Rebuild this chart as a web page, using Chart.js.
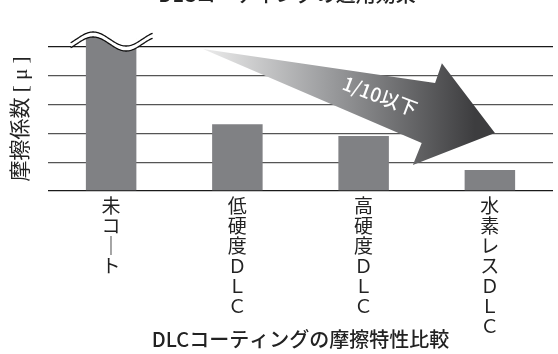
<!DOCTYPE html>
<html>
<head>
<meta charset="utf-8">
<script src="https://cdn.jsdelivr.net/npm/chart.js@4.4.1/dist/chart.umd.min.js"></script>
<style>
    html, body { margin: 0; padding: 0; background: #fff; }
    #wrap { width: 558px; height: 354px; }
</style>
</head>
<body>
<div id="wrap"><canvas id="myChart"></canvas></div>
<script>
// data of chart
const categories = [
    ['未', 'コ', '｜', 'ト'],
    ['低', '硬', '度', 'Ｄ', 'Ｌ', 'Ｃ'],
    ['高', '硬', '度', 'Ｄ', 'Ｌ', 'Ｃ'],
    ['水', '素', 'レ', 'ス', 'Ｄ', 'Ｌ', 'Ｃ']
];
const friction = [5.6, 2.32, 1.91, 0.73];   // first bar is cut off (break mark)
const yMin = 0;
const yMax = 5;
const yStep = 1;

const yTitle = '摩擦係数 [ μ ]';
const xTitle = 'DLCコーティングの摩擦特性比較';
const arrowText = '1/10以下';
const topTitle = 'DLCコーティングの適用効果';

const barColor = '#808184';
const serifFont = "'Liberation Serif', 'Noto Sans CJK JP', serif";
const sansFont = "'Noto Sans CJK JP', 'Noto Sans', sans-serif";

// break mark on top of the first bar + big arrow
const decoPlugin = {
    id: 'deco',
    afterDatasetsDraw(chart) {
        const ctx = chart.ctx;
        const xs = chart.scales.x;
        const ys = chart.scales.y;
        const area = chart.chartArea;

        // wave (break) on bar 1
        const bar = chart.getDatasetMeta(0).data[0];
        const bx = bar.x - 3.5;
        const half = bar.width / 2;
        const cy = area.top - 8;
        const waveY = x => cy - 7 * Math.sin(2 * Math.PI * (x - (bx - 31)) / 66);
        const x1 = bx - 37, x2 = bx + 45;

        ctx.save();
        // white above lower curve, inside bar
        ctx.beginPath();
        ctx.moveTo(bar.x - half - 1, 0);
        for (let x = bar.x - half - 1; x <= bar.x + half + 1; x++) {
            ctx.lineTo(x, waveY(x) + 5);
        }
        ctx.lineTo(bar.x + half + 1, 0);
        ctx.closePath();
        ctx.fillStyle = '#fff';
        ctx.fill();

        const curve = off => {
            ctx.beginPath();
            for (let x = x1; x <= x2; x++) {
                if (x == x1) ctx.moveTo(x, waveY(x) + off);
                else ctx.lineTo(x, waveY(x) + off);
            }
        };
        curve(2.5);
        ctx.strokeStyle = '#fff';
        ctx.lineWidth = 4;
        ctx.stroke();
        ctx.strokeStyle = '#111';
        ctx.lineWidth = 1.3;
        curve(0);
        ctx.stroke();
        curve(5);
        ctx.stroke();

        // arrow, positions in (category index, value)
        const pts = [
            [0.728, 4.93],
            [2.566, 3.75],
            [2.62, 4.44],
            [3.04, 2.01],
            [2.39, 0.90],
            [2.46, 1.67]
        ].map(p => [xs.getPixelForValue(p[0]), ys.getPixelForValue(p[1])]);
        const grad = ctx.createLinearGradient(pts[0][0], 0, pts[3][0] - 20, 0);
        grad.addColorStop(0, '#ececec');
        grad.addColorStop(0.45, '#9d9ea0');
        grad.addColorStop(1, '#3d3d3f');
        ctx.beginPath();
        pts.forEach((p, i) => {
            if (i == 0) ctx.moveTo(p[0], p[1]);
            else ctx.lineTo(p[0], p[1]);
        });
        ctx.closePath();
        ctx.fillStyle = grad;
        ctx.fill();

        // arrow text
        ctx.translate(xs.getPixelForValue(2.13), ys.getPixelForValue(3.30));
        ctx.rotate(0.36);
        ctx.fillStyle = '#fff';
        ctx.font = '500 19px ' + sansFont;
        ctx.textAlign = 'center';
        ctx.textBaseline = 'middle';
        ctx.fillText(arrowText, 0, 0);
        ctx.restore();
    },
    afterDraw(chart) {
        // title that is cut at the top edge of the picture
        const ctx = chart.ctx;
        ctx.save();
        ctx.fillStyle = '#222';
        ctx.font = '500 20px ' + sansFont;
        ctx.textAlign = 'center';
        ctx.textBaseline = 'alphabetic';
        ctx.fillText(topTitle, 287, 1.5);
        ctx.restore();
    }
};

const ctx = document.getElementById('myChart');
const myChart = new Chart(ctx, {
    type: 'bar',
    data: {
        labels: categories,
        datasets: [{
            data: friction,
            backgroundColor: barColor,
            borderWidth: 0,
            barPercentage: 0.4,
            categoryPercentage: 1,
            clip: false
        }]
    },
    options: {
        responsive: true,
        maintainAspectRatio: false,
        animation: false,
        layout: {
            padding: { top: 47, right: 5, left: 0, bottom: 0 }
        },
        plugins: {
            legend: { display: false },
            tooltip: { enabled: false }
        },
        scales: {
            x: {
                grid: { display: false, drawTicks: false },
                border: { display: false },
                ticks: {
                    color: '#222',
                    maxRotation: 0,
                    autoSkip: false,
                    padding: 7,
                    font: { family: serifFont, size: 19, lineHeight: 1.05 }
                },
                title: {
                    display: true,
                    text: xTitle,
                    color: '#222',
                    padding: { top: 0, bottom: 3 },
                    font: { family: sansFont, size: 20, weight: '500', lineHeight: 1.2 }
                },
                afterFit(scale) {
                    scale.height = 163;
                }
            },
            y: {
                min: yMin,
                max: yMax,
                ticks: { display: false, stepSize: yStep },
                grid: {
                    drawTicks: false,
                    color: c => (c.tick.value == yMin || c.tick.value == yMax) ? '#1a1a1a' : '#555',
                    lineWidth: 1.3
                },
                border: { display: false },
                title: {
                    display: true,
                    text: yTitle,
                    color: '#222',
                    padding: { top: 9, bottom: 15 },
                    font: { family: serifFont, size: 21, lineHeight: 1.2 }
                },
                afterFit(scale) {
                    scale.width = 48;
                }
            }
        }
    },
    plugins: [decoPlugin]
});
</script>
</body>
</html>
